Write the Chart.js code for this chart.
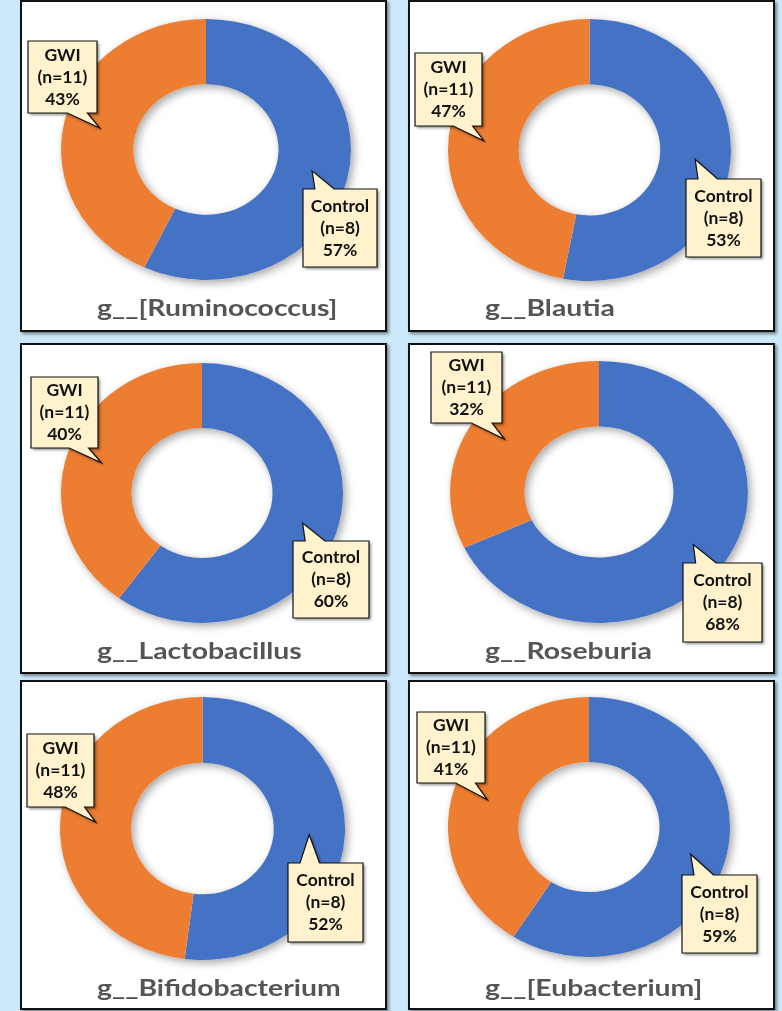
<!DOCTYPE html>
<html>
<head>
<meta charset="utf-8">
<script src="https://cdn.jsdelivr.net/npm/chart.js@4/dist/chart.umd.min.js"></script>
<style>
  html, body { margin: 0; padding: 0; }
  body { width: 782px; height: 1011px; background: #cce9fb; position: relative; overflow: hidden; }
  .panel { position: absolute; background: #fff; box-shadow: 2px 2px 3px rgba(0,0,0,0.45); }
  .panel canvas { position: absolute; left: 0; top: 0; }
  .frame { position: absolute; left: 0; top: 0; right: 0; bottom: 0; border: 2px solid #111; pointer-events: none; }
</style>
</head>
<body>
<script>
// Genera compared between the two groups (share of abundance, %)
const genera = ['g__[Ruminococcus]', 'g__Blautia', 'g__Lactobacillus', 'g__Roseburia', 'g__Bifidobacterium', 'g__[Eubacterium]'];
const groupNames = ['Control', 'GWI'];
const groupSizes = [8, 11];
const controlPct = [57, 53, 60, 68, 52, 59];
const gwiPct = [43, 47, 40, 32, 48, 41];

const groupColors = ['#4472C4', '#ED7D31'];

// Panel frames on the page
const frames = [
  { left: 20,  top: 0,   w: 367, h: 332 },
  { left: 408, top: 0,   w: 367, h: 332 },
  { left: 20,  top: 343, w: 367, h: 331 },
  { left: 408, top: 343, w: 367, h: 331 },
  { left: 20,  top: 680, w: 367, h: 330 },
  { left: 408, top: 680, w: 367, h: 330 }
];
// Ring placement inside each panel (centre, vertical radius, horizontal stretch)
const rings = [
  { cx: 186,   cy: 149.5, r: 130.5, sx: 1.111 },
  { cx: 181.5, cy: 150,   r: 131,   sx: 1.08 },
  { cx: 182,   cy: 150,   r: 130,   sx: 1.085 },
  { cx: 191,   cy: 149,   r: 131,   sx: 1.137 },
  { cx: 182.5, cy: 148.5, r: 131.5, sx: 1.084 },
  { cx: 181,   cy: 147,   r: 130,   sx: 1.085 }
];
// Callout boxes: [Control, GWI]
const calloutBoxes = [
  [{ x: 283, y: 189, w: 74, h: 78 }, { x: 8,  y: 41, w: 69, h: 72 }],
  [{ x: 278, y: 179, w: 75, h: 78 }, { x: 7,  y: 53, w: 67, h: 73 }],
  [{ x: 273, y: 198, w: 76, h: 77 }, { x: 11, y: 34, w: 67, h: 71 }],
  [{ x: 275, y: 220, w: 79, h: 79 }, { x: 23, y: 9,  w: 71, h: 71 }],
  [{ x: 268, y: 183, w: 75, h: 79 }, { x: 7,  y: 54, w: 67, h: 73 }],
  [{ x: 274, y: 195, w: 75, h: 78 }, { x: 9,  y: 32, w: 68, h: 71 }]
];
const titleX = 77, titleBaseline = 316, titleStretch = 1.26;

// Stretches the ring horizontally and lays a soft shadow under it
const ringPlugin = {
  id: 'ringStretch',
  beforeDatasetsDraw(chart) {
    const ctx = chart.ctx;
    const sx = chart.options.plugins.ringStretch.sx;
    const a = chart.getDatasetMeta(0).data[0];
    const { x, y, outerRadius, innerRadius } = a.getProps(['x', 'y', 'outerRadius', 'innerRadius']);
    ctx.save();
    ctx.translate(x, y);
    ctx.scale(sx, 1);
    ctx.translate(-x, -y);
    ctx.save();
    ctx.beginPath();
    ctx.arc(x, y, outerRadius, 0, Math.PI * 2);
    ctx.arc(x, y, innerRadius, 0, Math.PI * 2, true);
    ctx.closePath();
    ctx.shadowColor = 'rgba(0,0,0,0.35)';
    ctx.shadowBlur = 9;
    ctx.shadowOffsetX = 3;
    ctx.shadowOffsetY = 3;
    ctx.fillStyle = '#fff';
    ctx.fill();
    ctx.restore();
  },
  afterDatasetsDraw(chart) {
    chart.ctx.restore();
  }
};

function calloutPath(ctx, b, tip) {
  const { x, y, w, h } = b;
  ctx.beginPath();
  if (tip.y < y) {
    ctx.moveTo(x, y);
    ctx.lineTo(x + w * 0.16, y);
    ctx.lineTo(tip.x, tip.y);
    ctx.lineTo(x + w * 0.42, y);
    ctx.lineTo(x + w, y);
    ctx.lineTo(x + w, y + h);
    ctx.lineTo(x, y + h);
  } else if (tip.y > y + h) {
    ctx.moveTo(x, y);
    ctx.lineTo(x + w, y);
    ctx.lineTo(x + w, y + h);
    ctx.lineTo(x + w * 0.86, y + h);
    ctx.lineTo(tip.x, tip.y);
    ctx.lineTo(x + w * 0.57, y + h);
    ctx.lineTo(x, y + h);
  } else {
    ctx.rect(x, y, w, h);
  }
  ctx.closePath();
}

// Data callouts pointing to the middle of each segment, plus the panel title
const calloutPlugin = {
  id: 'callouts',
  afterDraw(chart) {
    const ctx = chart.ctx;
    const cfg = chart.options.plugins.callouts;
    const sx = chart.options.plugins.ringStretch.sx;
    const meta = chart.getDatasetMeta(0);
    const values = chart.data.datasets[0].data;
    meta.data.forEach((arc, i) => {
      const p = arc.getProps(['x', 'y', 'startAngle', 'endAngle', 'innerRadius', 'outerRadius']);
      const mid = (p.startAngle + p.endAngle) / 2;
      const rr = (p.innerRadius + p.outerRadius) / 2;
      const tip = { x: p.x + sx * rr * Math.cos(mid), y: p.y + rr * Math.sin(mid) };
      const b = cfg.boxes[i];
      ctx.save();
      calloutPath(ctx, b, tip);
      ctx.shadowColor = 'rgba(0,0,0,0.45)';
      ctx.shadowBlur = 3;
      ctx.shadowOffsetX = 2;
      ctx.shadowOffsetY = 2;
      ctx.fillStyle = '#FFF2CC';
      ctx.fill();
      ctx.shadowColor = 'transparent';
      ctx.lineWidth = 1.2;
      ctx.strokeStyle = '#111';
      ctx.stroke();
      ctx.restore();

      const lines = [chart.data.labels[i], '(n=' + groupSizes[i] + ')', values[i] + '%'];
      ctx.save();
      ctx.font = 'bold 17.5px Lato';
      ctx.fillStyle = '#111';
      ctx.textAlign = 'center';
      ctx.textBaseline = 'middle';
      const cxb = b.x + b.w / 2, cyb = b.y + b.h / 2;
      lines.forEach((t, k) => ctx.fillText(t, cxb, cyb + (k - 1) * 22));
      ctx.restore();
    });

    ctx.save();
    ctx.translate(titleX, titleBaseline);
    ctx.scale(titleStretch, 1);
    ctx.font = 'bold 22.5px Lato';
    ctx.fillStyle = '#555';
    ctx.textAlign = 'left';
    ctx.textBaseline = 'alphabetic';
    ctx.fillText(cfg.title, 0, 0);
    ctx.restore();
  }
};

genera.forEach((name, i) => {
  const f = frames[i], g = rings[i];
  const panel = document.createElement('div');
  panel.className = 'panel';
  panel.style.left = f.left + 'px';
  panel.style.top = f.top + 'px';
  panel.style.width = f.w + 'px';
  panel.style.height = f.h + 'px';
  const canvas = document.createElement('canvas');
  canvas.width = f.w;
  canvas.height = f.h;
  canvas.style.width = f.w + 'px';
  canvas.style.height = f.h + 'px';
  panel.appendChild(canvas);
  const frame = document.createElement('div');
  frame.className = 'frame';
  panel.appendChild(frame);
  document.body.appendChild(panel);

  new Chart(canvas, {
    type: 'doughnut',
    data: {
      labels: groupNames,
      datasets: [{
        data: [controlPct[i], gwiPct[i]],
        backgroundColor: groupColors,
        borderWidth: 0,
        hoverOffset: 0,
        offset: 0,
        cutout: '50%'
      }]
    },
    options: {
      responsive: false,
      animation: false,
      events: [],
      layout: {
        padding: {
          left: g.cx - g.r,
          right: f.w - g.cx - g.r,
          top: g.cy - g.r,
          bottom: f.h - g.cy - g.r
        }
      },
      plugins: {
        legend: { display: false },
        tooltip: { enabled: false },
        ringStretch: { sx: g.sx },
        callouts: { boxes: calloutBoxes[i], title: name }
      }
    },
    plugins: [ringPlugin, calloutPlugin]
  });
});
</script>
</body>
</html>
